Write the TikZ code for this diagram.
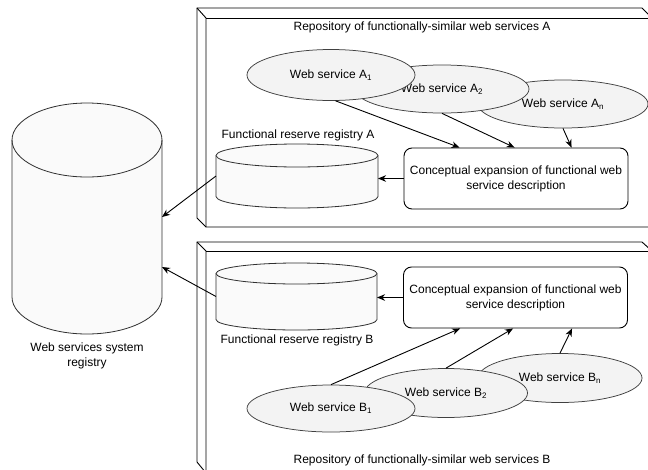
\documentclass[tikz,border=0pt]{standalone}
\usepackage{fontspec}
\setmainfont{Liberation Sans}
\usetikzlibrary{arrows.meta,shapes.geometric,calc}
\definecolor{ellfill}{HTML}{F3F3F3}
\definecolor{cylfill}{HTML}{FAFAFA}
\definecolor{ellline}{HTML}{404040}
\definecolor{cylline}{HTML}{303030}
\newcommand\drawcyl[5]{% cx, rx, ty, by, ry
  \filldraw[fill=cylfill,draw=cylline,line width=0.8pt] ({#1-#2},#3) -- ({#1-#2},#4)
    arc[start angle=180,end angle=360,x radius=#2pt,y radius=#5pt]
    -- ({#1+#2},#3)
    arc[start angle=0,end angle=180,x radius=#2pt,y radius=#5pt] -- cycle;
  \draw[draw=cylline,line width=0.8pt] ({#1-#2},#3)
    arc[start angle=180,end angle=360,x radius=#2pt,y radius=#5pt];
}
\tikzset{
  ell/.style={ellipse,draw=ellline,fill=ellfill,inner sep=0pt,line width=0.75pt},
  proc/.style={rectangle,draw,fill=white,rounded corners=8pt,inner sep=0pt,
    align=center,minimum width=224pt,minimum height=61pt,line width=0.9pt},
  cube/.style={draw,fill=white,line width=0.9pt},
  anchorbox/.style={inner sep=0pt,outer sep=0pt},
  conn/.style={-{Stealth[length=8pt,width=6.5pt,inset=2.5pt]},line width=0.9pt},
  lbl/.style={inner sep=0pt,align=center}
}
\begin{document}
\begin{tikzpicture}[x=1pt,y=-1pt,font=\fontsize{12}{15}\selectfont]
\useasboundingbox (0,0) rectangle (648,469);
\clip (0,0) rectangle (648,469);
\fill[white] (0,0) rectangle (648,469);

% cube A
\filldraw[cube] (197,8) -- (642,8) -- (652,18) -- (652,227) -- (206,227) -- (197,218) -- cycle;
\draw[cube,fill=none] (197,8) -- (206,18) -- (206,227);
\draw[cube,fill=none] (206,18) -- (652,18);
% cube B
\filldraw[cube] (197,242) -- (642,242) -- (652,251) -- (652,473) -- (206,473) -- (197,462) -- cycle;
\draw[cube,fill=none] (197,242) -- (206,251) -- (206,473);
\draw[cube,fill=none] (206,251) -- (652,251);

\node[lbl] (titA) at (422,27) {Repository of functionally-similar web services A};
\node[lbl] (titB) at (422,460) {Repository of functionally-similar web services B};

% system registry
\drawcyl{87}{75}{140}{297}{37}
\node[anchorbox,minimum width=150pt,minimum height=231pt] (reg) at (87,218.5) {};
\node[lbl] (regl) at (87,355.5) {Web services system\\registry};

% reserve registries
\drawcyl{297}{81}{155.5}{196.5}{11.5}
\node[anchorbox,minimum width=162pt,minimum height=64pt] (cylA) at (297,176) {};
\node[lbl] (cylAl) at (298,135) {Functional reserve registry A};
\drawcyl{296.5}{80.5}{273.5}{319.5}{10.5}
\node[anchorbox,minimum width=161pt,minimum height=67pt] (cylB) at (296.5,296.5) {};
\node[lbl] (cylBl) at (297,340) {Functional reserve registry B};

% web services A
\node[ell,minimum width=170pt,minimum height=48pt] (An) at (563,104) {Web service A\textsubscript{n}};
\node[ell,minimum width=174pt,minimum height=48pt] (A2) at (442,89) {Web service A\textsubscript{2}};
\node[ell,minimum width=168pt,minimum height=51pt] (A1) at (331,75) {Web service A\textsubscript{1}};
% web services B
\node[ell,minimum width=164pt,minimum height=49pt] (Bn) at (560,378) {Web service B\textsubscript{n}};
\node[ell,minimum width=163pt,minimum height=49pt] (B2) at (446,393) {Web service B\textsubscript{2}};
\node[ell,minimum width=168pt,minimum height=47pt] (B1) at (331,408.5) {Web service B\textsubscript{1}};

% process boxes
\node[proc] (pA) at (516,178.5) {Conceptual expansion of functional web\\service description};
\node[proc] (pB) at (515.5,297.5) {Conceptual expansion of functional web\\service description};

% connectors
\draw[conn] (A1.-80) -- ($(pA.north west)+(56,0)$);
\draw[conn] (A2.south) -- ($(pA.north west)+(111,0)$);
\draw[conn] (An.south) -- ($(pA.north west)+(168,0)$);
\draw[conn] (B1.north) -- ($(pB.south west)+(57,0)$);
\draw[conn] (B2.north) -- ($(pB.south west)+(110,0)$);
\draw[conn] (Bn.north) -- ($(pB.south west)+(169,0)$);
\draw[conn] (pA.west) -- (pA.west -| cylA.east);
\draw[conn] (pB.west) -- (pB.west -| cylB.east);
\draw[conn] (cylA.west) -- ([yshift=1.5pt]reg.east);
\draw[conn] (cylB.west) -- ([yshift=-48.5pt]reg.east);
\end{tikzpicture}
\end{document}
